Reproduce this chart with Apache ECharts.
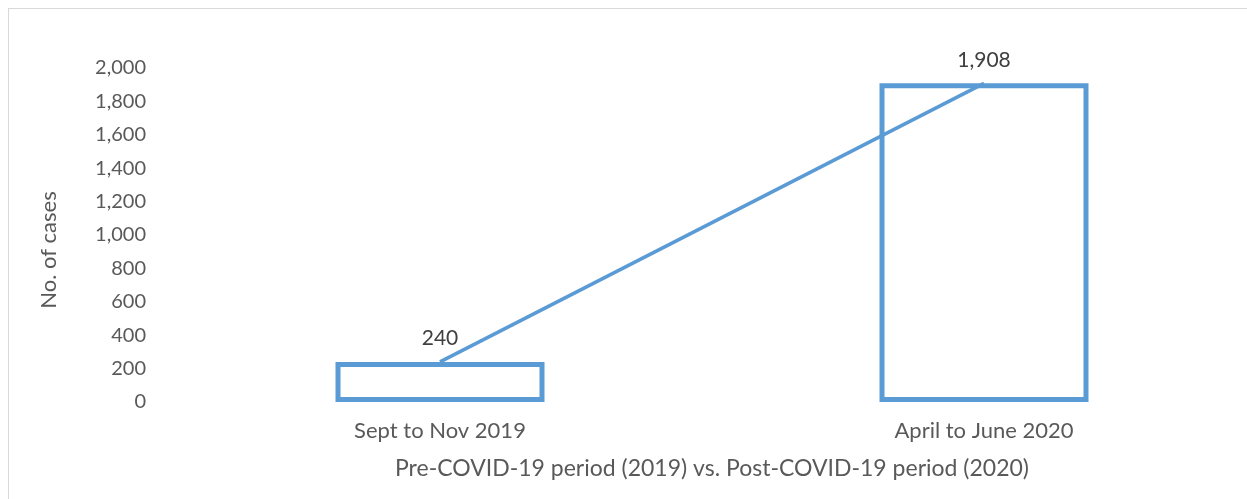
<!DOCTYPE html>
<html><head><meta charset="utf-8">
<script src="https://cdn.jsdelivr.net/npm/echarts@6/dist/echarts.min.js"></script>
<style>
html,body{margin:0;padding:0;background:#fff;overflow:hidden;width:1247px;height:499px;}
#frame{position:absolute;left:8px;top:8px;width:1260px;height:520px;border:1px solid #d9d9d9;box-sizing:border-box;}
#c{position:absolute;left:0;top:0;width:1300px;height:499px;}
</style>
</head><body>
<div id="frame"></div>
<div id="c"></div>
<script>
const categories = ["Sept to Nov 2019", "April to June 2020"];
const cases = [240, 1908];
const yTicks = [0, 200, 400, 600, 800, 1000, 1200, 1400, 1600, 1800, 2000];
const xTitle = "Pre-COVID-19 period (2019) vs. Post-COVID-19 period (2020)";
const yTitle = "No. of cases";

const chart = echarts.init(document.getElementById('c'));
const font = 'Lato, "Open Sans", sans-serif';
chart.setOption({
  animation: false,
  grid: {left: 168, top: 68, width: 1088, bottom: 97, containLabel: false},
  xAxis: {
    type: 'category', data: categories,
    axisLine: {show: false}, axisTick: {show: false},
    axisLabel: {color: '#595959', fontSize: 22, fontFamily: font, margin: 18},
    name: xTitle, nameLocation: 'middle', nameGap: 55,
    nameTextStyle: {color: '#595959', fontSize: 23, fontFamily: font}
  },
  yAxis: {
    type: 'value', min: yTicks[0], max: yTicks[yTicks.length - 1], interval: 200,
    axisLine: {show: false}, axisTick: {show: false}, splitLine: {show: false},
    axisLabel: {color: '#595959', fontSize: 20, fontFamily: font, margin: 22,
      formatter: v => v.toLocaleString('en-US')},
    name: yTitle, nameLocation: 'middle', nameGap: 108, nameRotate: 90,
    nameTextStyle: {color: '#595959', fontSize: 22, fontFamily: font, padding: [0, 0, 0, -30]}
  },
  series: [
    {
      type: 'bar', data: cases, barWidth: 209,
      itemStyle: {color: 'rgba(0,0,0,0)', borderColor: '#5b9bd5', borderWidth: 5},
      label: {show: true, position: 'top', distance: 13, color: '#404040', fontSize: 21,
        fontFamily: font, formatter: p => p.value.toLocaleString('en-US')}
    },
    {
      type: 'line', data: cases, symbol: 'none',
      lineStyle: {color: '#5b9bd5', width: 3.5}, z: 3
    }
  ]
});
</script>
</body></html>
